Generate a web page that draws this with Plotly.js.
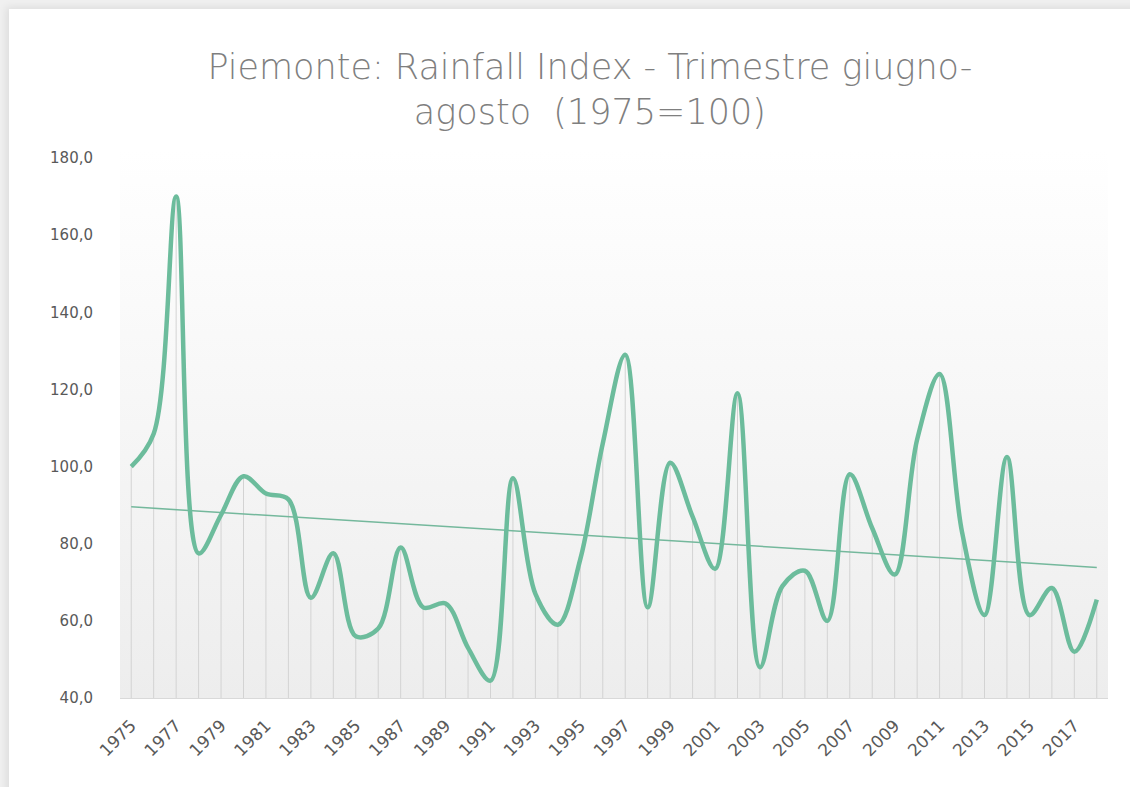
<!DOCTYPE html>
<html>
<head>
<meta charset="utf-8">
<script src="https://cdn.plot.ly/plotly-3.0.1.min.js"></script>
<style>
  html, body { margin:0; padding:0; width:1130px; height:787px; overflow:hidden; background:#f0f0f0; }
  #card { position:absolute; left:9px; top:9px; width:1140px; height:800px; background:#ffffff;
          box-shadow: -3px -2px 8px rgba(0,0,0,0.08); }
  #plotbg { position:absolute; background:linear-gradient(to bottom, #ffffff 0%, #f7f7f7 45%, #ededed 100%); }
  #chart { position:absolute; left:0; top:0; width:1130px; height:787px; }
</style>
</head>
<body>
<div id="card"></div>
<div id="plotbg"></div>
<div id="chart"></div>
<script>
const years = [1975,1976,1977,1978,1979,1980,1981,1982,1983,1984,1985,1986,1987,1988,1989,1990,1991,1992,1993,1994,1995,1996,1997,1998,1999,2000,2001,2002,2003,2004,2005,2006,2007,2008,2009,2010,2011,2012,2013,2014,2015,2016,2017,2018];
const rainfallIndex = [100,108.5,170,77.5,87.5,97.5,93,91.5,66,77.5,56,58,79,63.5,64.5,53,44.5,97,67,59,76,106,129,63.5,101,87,73.5,119,48,69,73,60,98,84,72,107,124,83,61.5,102.5,61.5,68.5,52,65.5];
const titleText = 'Piemonte: Rainfall Index - Trimestre giugno-<br>agosto  (1975=100)';
const yMin = 40, yMax = 180;

// linear trendline (least squares) from the data
const n = years.length;
const mx = years.reduce((a,b)=>a+b,0)/n;
const my = rainfallIndex.reduce((a,b)=>a+b,0)/n;
let sxy = 0, sxx = 0;
for (let i=0;i<n;i++){ sxy += (years[i]-mx)*(rainfallIndex[i]-my); sxx += (years[i]-mx)**2; }
const slope = sxy/sxx, icpt = my - slope*mx;
const trend = years.map(y => icpt + slope*y);

const green = '#6cbc9c';
const fontFam = '"DejaVu Sans", Lato, sans-serif';

const dropLines = {
  x: years, y: rainfallIndex, type:'scatter', mode:'markers',
  marker:{opacity:0, size:1}, hoverinfo:'skip', showlegend:false,
  error_y:{type:'data', symmetric:false, array: years.map(()=>0),
           arrayminus: rainfallIndex.map(v => v - yMin), width:0, thickness:1, color:'#d3d3d3'}
};
const mainLine = {
  x: years, y: rainfallIndex, type:'scatter', mode:'lines',
  line:{color:green, width:4.5, shape:'spline', smoothing:1},
  showlegend:false
};
const trendLine = {
  x: years, y: trend, type:'scatter', mode:'lines',
  line:{color:'#74b89c', width:1.5}, showlegend:false, hoverinfo:'skip'
};

const margin = {l:120, r:22, t:158, b:89};
const layout = {
  width:1130, height:787,
  paper_bgcolor:'rgba(0,0,0,0)', plot_bgcolor:'rgba(0,0,0,0)',
  margin: margin,
  separators: ',.',
  font:{family:fontFam, color:'#595959'},
  title:{text:titleText, x:0.522, xanchor:'center', y:0.9, yanchor:'middle',
         font:{family:fontFam, size:35, weight:200, color:'#7f7f7f'}},
  xaxis:{range:[years[0]-0.5, years[n-1]+0.5], tick0:1975, dtick:2, tickformat:'d',
         tickangle:-45, showgrid:false, zeroline:false, showline:true, linecolor:'#d9d9d9', linewidth:1,
         ticks:'', tickfont:{size:17, color:'#595959'}, ticklabelstandoff:10},
  yaxis:{range:[yMin, yMax], dtick:20, tickformat:'.1f', showgrid:false, zeroline:false,
         showline:false, ticks:'', tickfont:{size:15, color:'#595959'}, ticklabelstandoff:26}
};

Plotly.newPlot('chart', [dropLines, trendLine, mainLine], layout, {displayModeBar:false}).then(() => {
  const bg = document.getElementById('plotbg');
  bg.style.left = margin.l + 'px';
  bg.style.top = (margin.t - 8) + 'px';
  bg.style.width = (1130 - margin.l - margin.r) + 'px';
  bg.style.height = (787 - margin.t - margin.b + 8) + 'px';
});
</script>
</body>
</html>
